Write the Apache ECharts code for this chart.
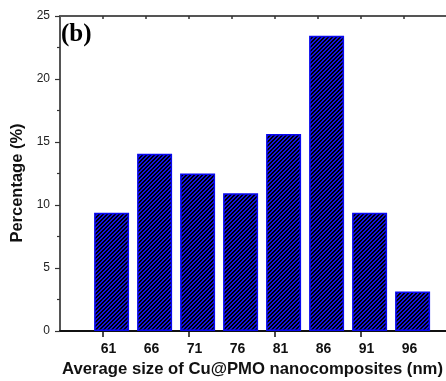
<!DOCTYPE html>
<html>
<head>
<meta charset="utf-8">
<script src="https://cdn.jsdelivr.net/npm/echarts@6/dist/echarts.min.js"></script>
<style>
  html, body { margin: 0; padding: 0; background: #fff; }
  #chart { width: 446px; height: 381px; }
</style>
</head>
<body>
<div id="chart"></div>
<script>
// Particle size distribution of Cu@PMO nanocomposites
const sizes = [61, 66, 71, 76, 81, 86, 91, 96];
const percentages = [9.38, 14.06, 12.5, 10.94, 15.63, 23.44, 9.38, 3.13];
const majorTicks = [60, 70, 80, 90];
const yTicks = [0, 5, 10, 15, 20, 25];

// Diagonal black/blue hatch used as the bar fill
function hatchPattern() {
  const c = document.createElement('canvas');
  c.width = 4; c.height = 4;
  const ctx = c.getContext('2d');
  ctx.fillStyle = '#1212e0';
  ctx.fillRect(0, 0, 4, 4);
  ctx.fillStyle = '#000000';
  for (let x = 0; x < 4; x++) {
    for (let y = 0; y < 4; y++) {
      if ((x + y) % 4 === 0 || (x + y) % 4 === 1) ctx.fillRect(x, y, 1, 1);
    }
  }
  return c;
}

const chart = echarts.init(document.getElementById('chart'), null, { renderer: 'canvas' });
const font = '"Liberation Sans", Arial, sans-serif';

chart.setOption({
  animation: false,
  grid: { left: 60, top: 16, width: 387, height: 315, containLabel: false, outerBoundsMode: 'none' },
  xAxis: [{
    type: 'value',
    min: 55, max: 100, interval: 5,
    position: 'bottom',
    axisLine: { show: true, onZero: false, lineStyle: { color: '#111', width: 2 } },
    axisTick: { show: true, inside: false, length: 6, customValues: majorTicks, lineStyle: { color: '#111', width: 1.5 } },
    axisLabel: {
      show: true, customValues: sizes, margin: 11,
      fontFamily: font, fontWeight: 'bold', fontSize: 14, color: '#111',
      padding: [0, 6, 0, 0]
    },
    splitLine: { show: false },
    name: 'Average size of Cu@PMO nanocomposites (nm)',
    nameLocation: 'middle', nameGap: 28,
    nameTextStyle: { fontFamily: font, fontWeight: 'bold', fontSize: 16.7, color: '#111', padding: [0, 2, 0, 0] }
  }, {
    type: 'value',
    min: 55, max: 100, interval: 5,
    position: 'top',
    axisLine: { show: true, onZero: false, lineStyle: { color: '#555', width: 2 } },
    axisTick: { show: true, inside: true, length: 3, customValues: [60, 65, 70, 75, 80, 85, 90, 95], lineStyle: { color: '#333', width: 1.5 } },
    axisLabel: { show: false },
    splitLine: { show: false }
  }],
  yAxis: {
    type: 'value',
    min: 0, max: 25, interval: 5,
    axisLine: { show: true, onZero: false, lineStyle: { color: '#555', width: 2 } },
    axisTick: { show: true, inside: false, length: 5, customValues: yTicks, lineStyle: { color: '#333', width: 1.2 } },
    minorTick: { show: true, splitNumber: 2, length: 3, lineStyle: { color: '#333', width: 1.2 } },
    axisLabel: { margin: 10, fontFamily: font, fontSize: 12, color: '#222' },
    splitLine: { show: false },
    minorSplitLine: { show: false },
    name: 'Percentage (%)',
    nameLocation: 'middle', nameGap: 33, nameRotate: 90,
    nameTextStyle: { fontFamily: font, fontWeight: 'bold', fontSize: 16.5, color: '#111', padding: [0, 0, 0, -19] }
  },
  graphic: [{
    type: 'text', left: 61, top: 22,
    style: { text: '(b)', font: 'bold 25px "Liberation Serif", "Times New Roman", serif', fill: '#000' }
  }],
  series: [{
    type: 'bar',
    xAxisIndex: 0,
    barWidth: 35,
    data: sizes.map((s, i) => [s, percentages[i]]),
    itemStyle: {
      color: { image: hatchPattern(), repeat: 'repeat' },
      borderColor: '#0a0aee',
      borderWidth: 1.5
    }
  }]
});
</script>
</body>
</html>
